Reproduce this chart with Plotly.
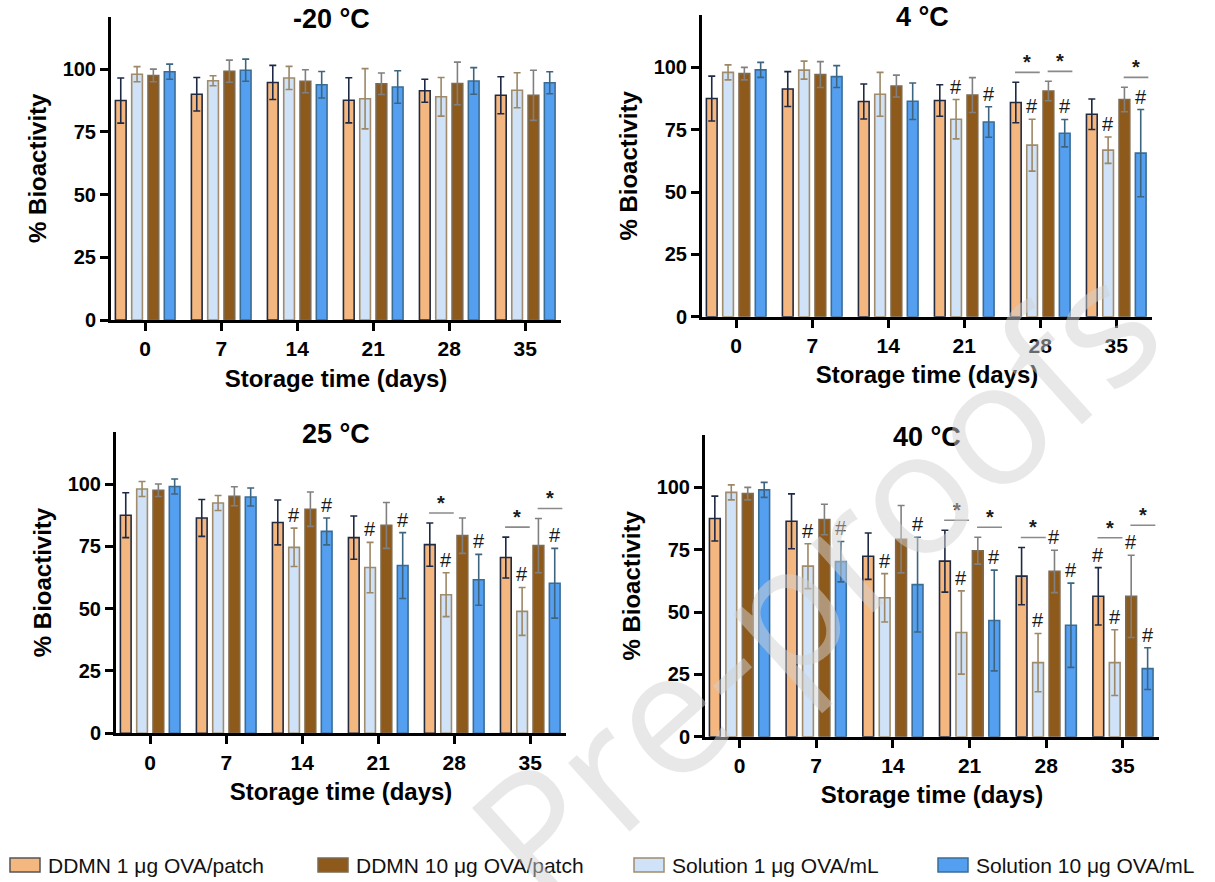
import plotly.graph_objects as go

# ---------------- data ----------------
days = [0, 7, 14, 21, 28, 35]
series_names = ["DDMN 1 μg OVA/patch", "Solution 1 μg OVA/mL",
                "DDMN 10 μg OVA/patch", "Solution 10 μg OVA/mL"]
legend_order = [0, 2, 1, 3]
panel_titles = ["-20 °C", "4 °C", "25 °C", "40 °C"]

# -20 °C
m20_ddmn1 = [87.5, 90.0, 94.7, 87.6, 91.4, 89.6]
s20_ddmn1 = [9.0, 6.7, 6.8, 9.0, 4.6, 7.4]
m20_sol1 = [98.0, 95.4, 96.5, 88.2, 89.0, 91.6]
s20_sol1 = [3.0, 2.0, 4.6, 12.0, 7.7, 7.0]
m20_ddmn10 = [97.5, 99.2, 95.2, 94.2, 94.3, 89.6]
s20_ddmn10 = [2.5, 4.4, 4.6, 4.3, 8.5, 10.0]
m20_sol10 = [99.0, 99.6, 93.8, 92.9, 95.3, 94.6]
s20_sol10 = [3.0, 4.4, 5.3, 6.5, 5.3, 4.4]

# 4 °C
m4_ddmn1 = [87.5, 91.3, 86.3, 86.7, 85.9, 81.2]
s4_ddmn1 = [9.0, 7.0, 7.0, 6.3, 8.1, 6.1]
m4_sol1 = [98.0, 98.9, 89.2, 79.2, 68.8, 66.8]
s4_sol1 = [3.0, 3.6, 8.8, 7.9, 10.4, 5.3]
m4_ddmn10 = [97.5, 97.1, 92.5, 88.9, 90.5, 87.1]
s4_ddmn10 = [2.5, 5.2, 4.4, 7.0, 3.9, 4.9]
m4_sol10 = [99.0, 96.3, 86.4, 78.1, 73.6, 65.6]
s4_sol10 = [3.0, 4.4, 7.3, 6.1, 5.5, 17.5]

# 25 °C
m25_ddmn1 = [87.5, 86.4, 84.6, 78.5, 75.7, 70.5]
s25_ddmn1 = [9.0, 7.4, 9.0, 8.7, 8.7, 8.2]
m25_sol1 = [98.0, 92.4, 74.6, 66.5, 55.6, 48.9]
s25_sol1 = [3.0, 3.0, 7.7, 10.1, 8.8, 9.6]
m25_ddmn10 = [97.5, 95.1, 89.9, 83.4, 79.3, 75.3]
s25_ddmn10 = [2.5, 3.8, 6.9, 9.2, 7.1, 10.9]
m25_sol10 = [99.0, 94.8, 81.0, 67.3, 61.6, 60.2]
s25_sol10 = [3.0, 3.6, 5.4, 13.2, 10.2, 14.0]

# 40 °C
m40_ddmn1 = [87.5, 86.4, 72.4, 70.4, 64.4, 56.3]
s40_ddmn1 = [9.0, 11.0, 9.3, 12.4, 11.5, 11.5]
m40_sol1 = [98.0, 68.4, 55.7, 41.8, 29.7, 29.7]
s40_sol1 = [3.0, 9.0, 9.7, 16.7, 11.7, 13.2]
m40_ddmn10 = [97.5, 87.1, 79.2, 74.6, 66.3, 56.3]
s40_ddmn10 = [2.5, 6.1, 13.5, 5.4, 8.5, 16.5]
m40_sol10 = [99.0, 70.2, 61.0, 46.6, 44.7, 27.3]
s40_sol10 = [3.0, 8.1, 19.0, 20.2, 16.9, 8.4]

# significance marks: (day index, series index) for '#'
hash20 = []
hash4 = [(3, 1), (3, 3), (4, 1), (4, 3), (5, 1), (5, 3)]
hash25 = [(2, 1), (2, 3), (3, 1), (3, 3), (4, 1), (4, 3), (5, 1), (5, 3)]
hash40 = [(1, 1), (1, 3), (2, 1), (2, 3), (3, 1), (3, 3), (4, 1), (4, 2), (4, 3),
          (5, 0), (5, 1), (5, 2), (5, 3)]
# '*' brackets: (day index, first series index of the pair)
star20 = []
star4 = [(4, 0), (4, 2), (5, 2)]
star25 = [(4, 0), (5, 0), (5, 2)]
star40 = [(3, 0), (3, 2), (4, 0), (5, 0), (5, 2)]

panels = [
    ([m20_ddmn1, m20_sol1, m20_ddmn10, m20_sol10], [s20_ddmn1, s20_sol1, s20_ddmn10, s20_sol10], hash20, star20),
    ([m4_ddmn1, m4_sol1, m4_ddmn10, m4_sol10], [s4_ddmn1, s4_sol1, s4_ddmn10, s4_sol10], hash4, star4),
    ([m25_ddmn1, m25_sol1, m25_ddmn10, m25_sol10], [s25_ddmn1, s25_sol1, s25_ddmn10, s25_sol10], hash25, star25),
    ([m40_ddmn1, m40_sol1, m40_ddmn10, m40_sol10], [s40_ddmn1, s40_sol1, s40_ddmn10, s40_sol10], hash40, star40),
]

# ---------------- style ----------------
W, H0 = 1215, 882          # target picture size
H = 893                    # figure height (picture is slightly compressed vertically)
KY = H / H0
fill = ["#F4B77F", "#CFE2F7", "#8E5A1C", "#559FF0"]
edge = ["#222A40", "#A08C6C", "#7D6A50", "#3A6D96"]
errc = ["#1E2A45", "#9C8866", "#808080", "#3E6580"]
spacing = 0.2145
bw = 0.141
offs = [(-1.5 + k) * spacing for k in range(4)]
FONT = "Liberation Sans, Arial, sans-serif"

# pixel boxes of each plot area in the target picture: (left, right, top, bottom)
boxes = [(111, 561, 16.5, 320), (702, 1152, 15, 316.7),
         (116, 566, 431.7, 733.3), (705, 1159, 435, 736.7)]
# legend swatch left edges (px) and vertical centre
legend_x = [10, 318, 634, 938]
legend_yc = 865


def py(ypx):
    """target-picture pixel row -> paper fraction"""
    return 1 - ypx * KY / H


fig = go.Figure()
layout = dict(width=W, height=H, margin=dict(l=0, r=0, t=0, b=0),
              paper_bgcolor="white", plot_bgcolor="white", barmode="overlay",
              font=dict(family=FONT, color="black"), showlegend=False)
annotations = []
shapes = []

for p, (means, sds, hashes, stars) in enumerate(panels):
    xa = "x" if p == 0 else f"x{p+1}"
    ya = "y" if p == 0 else f"y{p+1}"
    xk = "xaxis" if p == 0 else f"xaxis{p+1}"
    yk = "yaxis" if p == 0 else f"yaxis{p+1}"
    l, r, t, b = boxes[p]
    layout[xk] = dict(domain=[l / W, r / W], anchor=ya, range=[-0.45, 5.47],
                      tickvals=list(range(len(days))), ticktext=[str(d) for d in days],
                      showline=True, linewidth=3, linecolor="black", ticks="outside",
                      ticklen=8, tickwidth=3, tickcolor="black", showgrid=False, zeroline=False,
                      tickfont=dict(size=21, weight="bold", family=FONT),
                      title=dict(text="Storage time (days)", standoff=11,
                                 font=dict(size=24, weight="bold", family=FONT)))
    layout[yk] = dict(domain=[py(b), py(t)], anchor=xa, range=[0, 121],
                      tickvals=[0, 25, 50, 75, 100], showline=True, linewidth=3,
                      linecolor="black", ticks="outside", ticklen=8, tickwidth=3,
                      tickcolor="black", showgrid=False, zeroline=False,
                      tickfont=dict(size=20, weight="bold", family=FONT),
                      title=dict(text="% Bioactivity", standoff=10,
                                 font=dict(size=24, weight="bold", family=FONT)))
    for k in range(4):
        fig.add_trace(go.Bar(
            x=[i + offs[k] for i in range(len(days))], y=means[k], width=bw,
            name=series_names[k], xaxis=xa, yaxis=ya,
            marker=dict(color=fill[k], line=dict(color=edge[k], width=1.6)),
            error_y=dict(type="data", array=sds[k], color=errc[k], thickness=1.6, width=3.5),
        ))
    annotations.append(dict(x=2.45, y=120, xref=xa, yref=ya, text=panel_titles[p],
                            showarrow=False, xanchor="center", yanchor="middle",
                            font=dict(size=27, weight="bold", family=FONT)))
    hashed = set(hashes)
    for (i, k) in hashes:
        annotations.append(dict(x=i + offs[k], y=means[k][i] + sds[k][i], xref=xa, yref=ya,
                                text="#", showarrow=False, xanchor="center", yanchor="bottom",
                                font=dict(size=20, family=FONT, color="#1a1a1a")))
    for (i, k) in stars:
        tops = []
        for kk in (k, k + 1):
            top = means[kk][i] + sds[kk][i] + (8 if (i, kk) in hashed else 0)
            tops.append(top)
        level = max(tops) + 4
        x0 = i + offs[k] - 0.01
        x1 = i + offs[k + 1] + bw / 2 + 0.03
        shapes.append(dict(type="line", xref=xa, yref=ya, x0=x0, x1=x1, y0=level, y1=level,
                           line=dict(color="#8a8a8a", width=1.6)))
        annotations.append(dict(x=(x0 + x1) / 2, y=level, xref=xa, yref=ya, text="*",
                                showarrow=False, xanchor="center", yanchor="bottom", yshift=-3,
                                font=dict(size=20, weight="bold", family=FONT, color="#1a1a1a")))

# legend drawn with paper-referenced swatches and labels
for j, k in enumerate(legend_order):
    x0 = legend_x[j]
    shapes.append(dict(type="rect", xref="paper", yref="paper",
                       x0=x0 / W, x1=(x0 + 30) / W,
                       y0=py(legend_yc + 7), y1=py(legend_yc - 7),
                       fillcolor=fill[k], line=dict(color=edge[k] if k != 0 else "#555555", width=1.5)))
    annotations.append(dict(x=(x0 + 36) / W, y=py(legend_yc), xref="paper", yref="paper",
                            text=series_names[k], showarrow=False, xanchor="left", yanchor="middle",
                            font=dict(size=21, family=FONT, color="#111111")))

# watermark
annotations.append(dict(x=812 / W, y=py(577), xref="paper", yref="paper", text="Pre-proofs",
                        showarrow=False, textangle=-42, xanchor="center", yanchor="middle",
                        font=dict(size=172, family="Open Sans, sans-serif",
                                  color="rgba(210,210,210,0.5)")))

layout["annotations"] = annotations
layout["shapes"] = shapes
fig.update_layout(**layout)

post = (
    "document.documentElement.style.margin='0';"
    "document.body.style.margin='0';document.body.style.padding='0';"
)
fig.write_html("out.html", config={"displayModeBar": False}, post_script=post)
